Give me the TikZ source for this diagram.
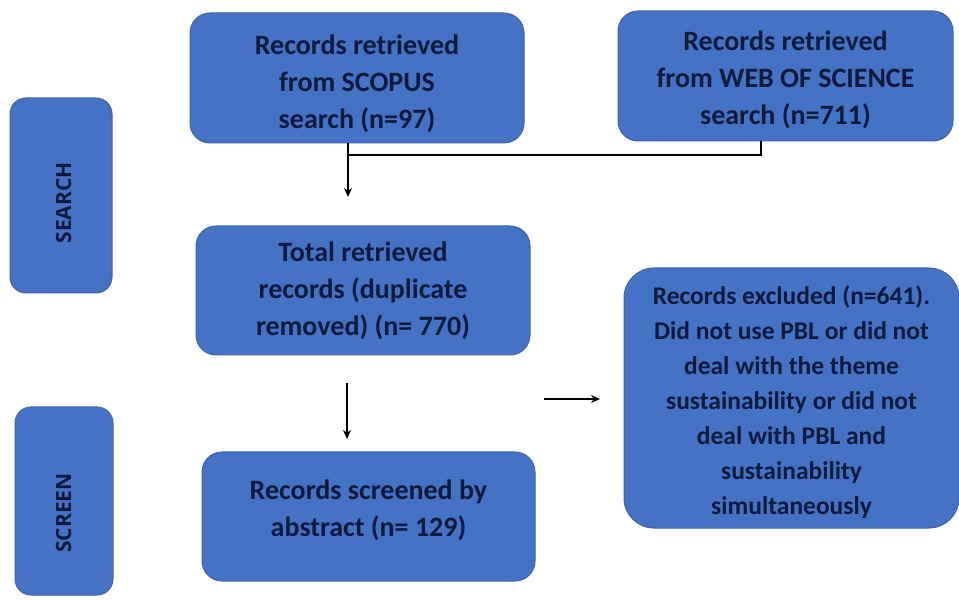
\documentclass[tikz,border=0pt]{standalone}
\usepackage{fontspec}
\setmainfont{Carlito}
\newfontfamily\stagefont{Open Sans}
\usetikzlibrary{arrows.meta,positioning}
\definecolor{boxblue}{HTML}{4472C4}
\definecolor{boxedge}{HTML}{3F64A8}
\definecolor{inkblue}{HTML}{0E1A3C}
\tikzset{
  stagebox/.style={draw=boxedge,line width=1pt,fill=boxblue,rounded corners=20pt,
    text=inkblue,align=center,font=\bfseries\fontsize{28}{37}\selectfont,inner sep=0pt},
  sidebox/.style={draw=boxedge,line width=1pt,fill=boxblue,rounded corners=16pt,inner sep=0pt},
  boxtext/.style={text=inkblue,align=center,font=\bfseries\fontsize{28}{37}\selectfont},
  sidetext/.style={text=inkblue,font=\stagefont\bfseries\fontsize{21}{24}\selectfont,rotate=90},
  flow/.style={-{Stealth[length=9pt,width=8pt]},line width=1.8pt,black},
  joint/.style={line width=2.2pt,black}
}
\begin{document}
\begin{tikzpicture}[x=1pt,y=-1pt]
        \useasboundingbox (0,0) rectangle (959,601);
        % Stage labels
        \node[sidebox,minimum width=102pt,minimum height=195pt](search) at (61,195.5){};
        \node[sidetext](searchtext) at (63.5,203){SEARCH};
        \node[sidebox,minimum width=98pt,minimum height=188pt](screen) at (64,501){};
        \node[sidetext](screentext) at (63.5,513){SCREEN};
        % Records
        \node[stagebox,minimum width=334pt,minimum height=130pt](scopus) at (357,78){};
        \node[boxtext](scopustext) at (357,84){Records retrieved\\from SCOPUS\\search (n=97)};
        \node[stagebox,minimum width=335pt,minimum height=130pt](wos) at (785.5,76){};
        \node[boxtext](wostext) at (785.5,80){Records retrieved\\from WEB OF SCIENCE\\search (n=711)};
        \node[stagebox,minimum width=334pt,minimum height=129pt](total) at (363,290.5){Total retrieved\\records (duplicate\\removed) (n= 770)};
        \node[stagebox,minimum width=333pt,minimum height=129pt](screened) at (368.5,516.5){};
        \node[boxtext](screenedtext) at (368.5,510){Records screened by\\abstract (n= 129)};
        \node[stagebox,rounded corners=30pt,minimum width=335pt,minimum height=260pt](excluded) at (791.5,398){};
        \node[boxtext,font=\bfseries\fontsize{25.5}{35}\selectfont](excludedtext) at (791.5,402){Records excluded (n=641).\\Did not use PBL or did not\\deal with the theme\\sustainability or did not\\deal with PBL and\\sustainability\\simultaneously};
        % Arrows
        \coordinate(merge) at (348,197);
        \coordinate(bend) at (761,155);
        \draw[flow](scopus.south -| merge)--(merge);
        \draw[joint](wos.south -| bend)--(bend)--(bend -| merge);
        \coordinate(down1) at (347,383);
        \coordinate(down2) at (347,439);
        \draw[flow](down1)--(down2);
        \coordinate(right1) at (544,399);
        \coordinate(right2) at (600,399);
        \draw[flow](right1)--(right2);
    \end{tikzpicture}
\end{document}
